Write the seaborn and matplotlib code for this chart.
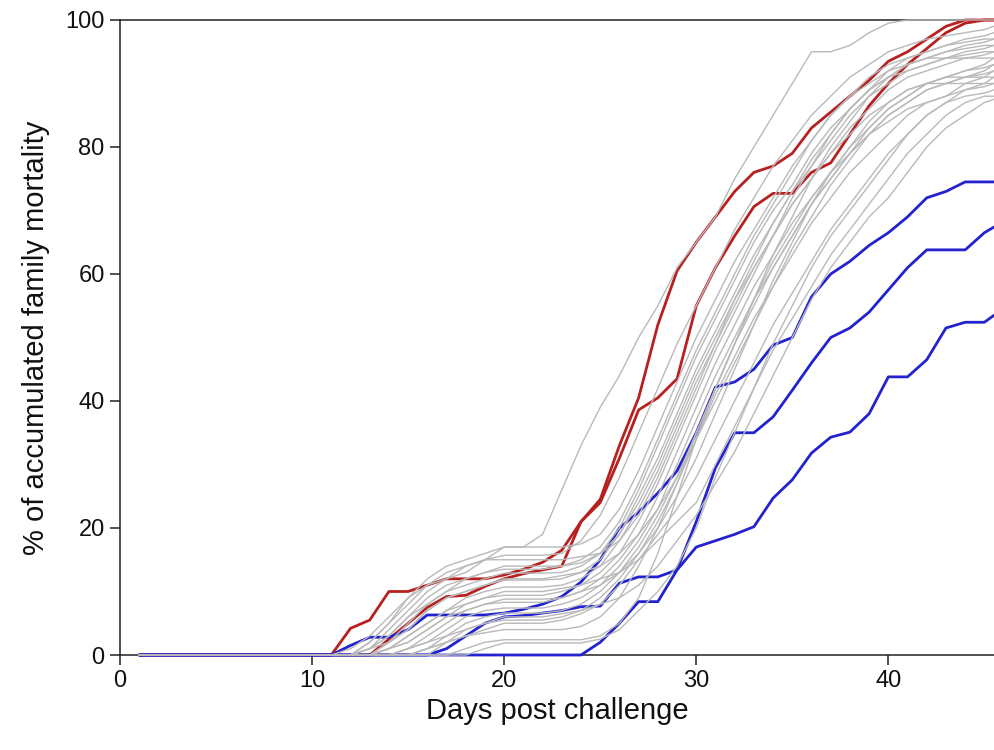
import matplotlib
matplotlib.use("Agg")
import matplotlib.pyplot as plt
import seaborn as sns
import pandas as pd

# ---------------- data ----------------
DAYS = [1, 10, 11, 12, 13, 14, 15, 16, 17, 18, 19, 20, 21, 22, 23, 24, 25, 26, 27, 28, 29,
        30, 31, 32, 33, 34, 35, 36, 37, 38, 39, 40, 41, 42, 43, 44, 45, 45.5]

X_TICKS = [0, 10, 20, 30, 40]
Y_TICKS = [0, 20, 40, 60, 80, 100]
X_LABEL = "Days post challenge"
Y_LABEL = "% of accumulated family mortality"

# highlighted families (red = most susceptible, blue = most resistant)
red_1 = [0, 0, 0, 4.2, 5.5, 10, 10, 11, 12, 12, 12, 12.6, 13.5, 14.6, 16.5, 21, 24.5, 33, 40.5, 52, 60.5,
         65, 69, 73, 76, 77, 79, 83, 85.5, 88, 90.5, 93.5, 95, 97, 99, 100, 100, 100]
red_2 = [0, 0, 0, 0, 0, 2.5, 5, 7.5, 9.2, 9.4, 10.8, 12, 12.8, 13.4, 14, 21, 24, 31, 38.6, 40.5, 43.5,
         55, 61, 66, 70.6, 72.7, 72.7, 76, 77.5, 82, 86.5, 90, 93, 95.5, 98, 99.5, 100, 100]
blue_1 = [0, 0, 0, 1.5, 2.8, 2.8, 4, 6.3, 6.3, 6.3, 6.3, 6.6, 7.2, 8, 9.2, 11.5, 15, 20, 22.5, 25.5, 29,
          35, 42.2, 43, 45, 48.8, 50, 56.4, 60, 62, 64.5, 66.5, 69, 72, 73, 74.5, 74.5, 74.5]
blue_2 = [0, 0, 0, 0, 0, 0, 0, 0, 1, 3, 5, 6, 6.2, 6.6, 7, 7.6, 7.7, 11.3, 12.3, 12.3, 13.4,
          17, 18, 19, 20.2, 24.7, 27.6, 31.8, 34.3, 35.1, 38, 43.8, 43.8, 46.5, 51.5, 52.4, 52.4, 53.5]
blue_3 = [0, 0, 0, 0, 0, 0, 0, 0, 0, 0, 0, 0, 0, 0, 0, 0, 2, 5, 8.4, 8.4, 13.4,
          21, 29.5, 35, 35, 37.5, 41.7, 46, 50, 51.5, 54, 57.5, 61, 63.8, 63.8, 63.8, 66.5, 67.4]

# remaining families (grey)
grey_01 = [0, 0, 0, 1, 3, 6, 9, 11, 12, 13, 15, 17, 17, 19, 26, 33, 39, 44, 50, 55, 61,
           65, 69, 75, 80, 85, 90, 95, 95, 96, 98, 99.5, 100, 100, 100, 100, 100, 100]
grey_02 = [0, 0, 0, 0, 2, 5, 8, 11, 13, 14, 15, 15.7, 15.7, 15.7, 16, 18, 22, 28, 35, 42, 49,
           55, 61, 67, 72, 77, 81, 85, 88, 91, 93, 95, 96, 97, 97.5, 98, 98.5, 99]
grey_03 = [0, 0, 0, 0, 1, 3, 6, 9, 11, 12, 13, 14, 14, 14, 14, 15, 17, 21, 27, 34, 41,
           48, 54, 60, 66, 71, 76, 81, 85, 88, 91, 93, 94, 95, 96, 97, 97.5, 98]
grey_04 = [0, 0, 0, 0, 0, 2, 5, 8, 10, 11, 12, 12.9, 12.9, 12.9, 13, 14, 16, 20, 26, 33, 40,
           47, 53, 59, 65, 70, 74, 79, 83, 86, 89, 91, 93, 94, 95, 96, 96.5, 97]
grey_05 = [0, 0, 0, 0, 1, 2, 4, 7, 9, 10, 11, 11.8, 11.8, 11.8, 12, 13, 15, 19, 25, 31, 38,
           45, 51, 57, 63, 68, 73, 77, 81, 85, 88, 90, 92, 93, 94, 95, 95.5, 96]
grey_06 = [0, 0, 0, 0, 0, 1, 3, 5, 7, 9, 10, 10.7, 10.7, 10.7, 11, 12, 14, 18, 23, 29, 36,
           43, 49, 55, 61, 66, 71, 75, 79, 83, 86, 89, 91, 92, 93, 94, 94.5, 95]
grey_07 = [0, 0, 0, 0, 0, 1, 2, 4, 6, 8, 9, 9.4, 9.4, 9.4, 10, 11, 13, 16, 21, 27, 34,
           41, 48, 54, 60, 66, 72, 77, 82, 86, 89, 92, 94, 95, 96, 96.5, 97, 97]
grey_08 = [0, 0, 0, 0, 0, 0, 1, 3, 5, 7, 8, 8.3, 8.3, 8.3, 9, 10, 12, 15, 19, 25, 32,
           39, 46, 52, 58, 63, 68, 72, 76, 80, 83, 86, 88, 90, 91, 92, 93, 94]
grey_09 = [0, 0, 0, 0, 0, 0, 1, 2, 4, 6, 7, 7.4, 7.4, 7.4, 8, 9, 11, 14, 18, 23, 30,
           37, 44, 50, 56, 61, 66, 71, 75, 79, 82, 85, 87, 89, 90, 91, 92, 93]
grey_10 = [0, 0, 0, 0, 0, 0, 0, 1, 3, 5, 6, 6.6, 6.6, 6.6, 7, 8, 10, 13, 17, 22, 28,
           35, 42, 49, 56, 63, 69, 75, 80, 84, 88, 91, 93, 94, 95, 95.5, 96, 96]
grey_11 = [0, 0, 0, 0, 0, 0, 0, 1, 2, 4, 5, 5.5, 5.5, 5.5, 6, 7, 9, 12, 16, 21, 27,
           34, 41, 47, 53, 58, 63, 68, 72, 76, 79, 82, 85, 87, 88, 90, 91, 92]
grey_12 = [0, 0, 0, 0, 0, 0, 0, 0, 2, 3, 4, 5, 5, 5, 5.5, 6.5, 8, 11, 15, 19, 23,
           28, 34, 40, 46, 52, 57, 62, 67, 71, 75, 79, 82, 85, 87, 89, 90, 91]
grey_13 = [0, 0, 0, 0, 1, 4, 7, 10, 12, 14, 15, 15, 15, 15, 15, 15.5, 16, 18, 22, 28, 35,
           42, 49, 56, 62, 68, 73, 78, 82, 86, 89, 91, 92, 93, 94, 94.5, 95, 95]
grey_14 = [0, 0, 0, 0, 0, 0, 0, 0, 0, 1, 2, 2.4, 2.4, 2.4, 2.4, 2.4, 3, 5, 9, 16, 25,
           34, 42, 49, 56, 62, 67, 72, 76, 79, 82, 84, 86, 87, 88, 89, 89.5, 90]
grey_15 = [0, 0, 0, 0, 0, 0, 0, 1, 2, 3, 3.5, 4, 4, 4, 4, 4.5, 6, 9, 14, 20, 27,
           35, 42, 49, 55, 61, 66, 71, 75, 79, 83, 86, 88, 90, 91, 92, 92.5, 93]
grey_16 = [0, 0, 0, 0, 0, 0, 0, 0, 0, 0, 1, 1.9, 1.9, 1.9, 1.9, 1.9, 2.5, 4, 7, 10, 14,
           20, 28, 35, 42, 49, 55, 61, 66, 70, 74, 78, 82, 85, 87, 88, 88.5, 89]
grey_17 = [0, 0, 0, 0, 0, 2, 4, 7, 9, 10, 11, 12, 12, 12, 12.5, 13, 14, 16, 19, 23, 28,
           34, 40, 46, 52, 58, 64, 69, 74, 78, 82, 85, 87, 89, 90, 91, 91.5, 92]
grey_18 = [0, 0, 0, 0, 0, 1, 3, 5, 7, 8, 9, 10, 10, 10, 10.5, 11, 12, 13, 15, 18, 21,
           24, 30, 36, 42, 48, 53, 58, 63, 67, 71, 75, 79, 82, 85, 87, 88, 88]
grey_19 = [0, 0, 0, 0, 2, 5, 9, 12, 14, 15, 16, 17, 17, 17, 17, 17.5, 19, 23, 29, 36, 43,
           50, 56, 62, 67, 72, 77, 81, 85, 88, 90, 92, 93, 94, 94, 94, 94, 94]
grey_20 = [0, 0, 0, 0, 0, 0, 1, 2, 3, 4, 5, 6, 6, 6, 6.5, 7, 8, 9, 11, 14, 18,
           22, 27, 32, 38, 44, 50, 56, 61, 65, 69, 72, 76, 80, 83, 85, 87, 87.5]
grey_21 = [0, 0, 0, 0, 1, 3, 6, 8, 10, 12, 13, 13.5, 13.5, 13.5, 14, 14.5, 16, 19, 24, 30, 37,
           44, 50, 56, 61, 66, 71, 75, 79, 82, 85, 87, 89, 90, 91, 91, 91, 91]
grey_22 = [0, 0, 0, 0, 0, 1, 2, 4, 6, 7, 8, 8.8, 8.8, 8.8, 9, 10, 11, 13, 16, 20, 25,
           31, 38, 45, 52, 59, 65, 71, 76, 80, 84, 87, 89, 90, 90, 90, 90, 90]

GREY = [grey_01, grey_02, grey_03, grey_04, grey_05, grey_06, grey_07, grey_08, grey_09, grey_10, grey_11,
        grey_12, grey_13, grey_14, grey_15, grey_16, grey_17, grey_18, grey_19, grey_20, grey_21, grey_22]
HIGHLIGHT = {"red_1": red_1, "red_2": red_2, "blue_1": blue_1, "blue_2": blue_2, "blue_3": blue_3}

for s in GREY + list(HIGHLIGHT.values()):
    assert len(s) == len(DAYS), len(s)

# ---------------- long-form tables ----------------
rows = []
for i, s in enumerate(GREY):
    for d, v in zip(DAYS, s):
        rows.append({"family": f"g{i:02d}", "day": d, "mort": v})
grey_df = pd.DataFrame(rows)

rows = []
for name, s in HIGHLIGHT.items():
    for d, v in zip(DAYS, s):
        rows.append({"family": name, "day": d, "mort": v, "group": name.split("_")[0]})
hl_df = pd.DataFrame(rows)

# ---------------- figure ----------------
sns.set_theme(style="ticks")
plt.rcParams["font.family"] = ["Liberation Sans", "DejaVu Sans"]

fig = plt.figure(figsize=(9.94, 7.5), dpi=100)
ax = fig.add_axes([120 / 994, 95 / 750, 874 / 994, 635 / 750])

RED = "#b82020"
BLUE = "#2222d0"
GREYC = "#b9b9b9"

for grp, col in [("red", RED), ("blue", BLUE)]:
    sub = hl_df[hl_df["group"] == grp]
    sns.lineplot(data=sub, x="day", y="mort", units="family", estimator=None,
                 color=col, linewidth=2.0, ax=ax, legend=False, clip_on=False, zorder=3)

sns.lineplot(data=grey_df, x="day", y="mort", units="family", estimator=None,
             color=GREYC, linewidth=1.0, ax=ax, legend=False, clip_on=False, zorder=3.2)

ax.set_xlim(0, 45.5)
ax.set_ylim(0, 100)
ax.set_xticks(X_TICKS)
ax.set_yticks(Y_TICKS)

for side in ["left", "bottom", "top"]:
    ax.spines[side].set_linewidth(1.1)
    ax.spines[side].set_color("#222222")
ax.spines["right"].set_visible(False)

ax.tick_params(axis="both", direction="out", length=7, width=1.1, color="#222222",
               labelsize=17, labelcolor="#111111", pad=4)

ax.set_xlabel(X_LABEL, fontsize=21, color="#111111")
ax.set_ylabel(Y_LABEL, fontsize=21, color="#111111")
ax.xaxis.set_label_coords(0.5, -0.066)
ax.yaxis.set_label_coords(-0.08, 0.5)

fig.savefig("out.png", dpi=100)
